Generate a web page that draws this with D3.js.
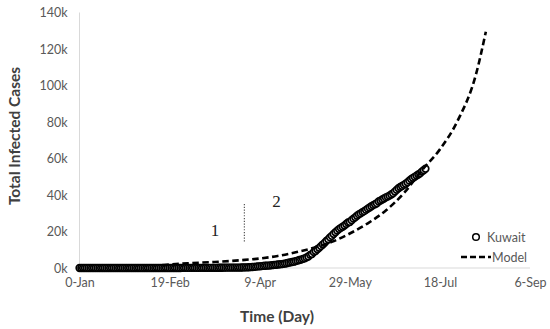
<!DOCTYPE html>
<html>
<head>
<meta charset="utf-8">
<script src="https://cdn.jsdelivr.net/npm/d3@7.9.0/dist/d3.min.js"></script>
<style>
  html, body { margin: 0; padding: 0; background: #fff; }
  svg { display: block; }
</style>
</head>
<body>
<div id="chart"></div>
<script>
// ── Data ──────────────────────────────────────────────────────────────
// x ticks: day number, shown as Excel-style day-month labels
var tickDays   = [0, 50, 100, 150, 200, 250];
var tickLabels = ["0-Jan", "19-Feb", "9-Apr", "29-May", "18-Jul", "6-Sep"];
var yTicks     = [0, 20000, 40000, 60000, 80000, 100000, 120000, 140000];

// Kuwait: cumulative cases, one value per day starting at day 0
var kuwaitCases = [
  0, 0, 0, 0, 0, 0, 0, 0, 0, 0,
  0, 0, 0, 0, 0, 0, 0, 0, 0, 0,
  0, 0, 0, 0, 0, 0, 0, 0, 0, 0,
  0, 0, 0, 0, 0, 0, 0, 0, 0, 0,
  0, 0, 0, 0, 0, 0, 0, 0, 0, 0,
  0, 0, 0, 0, 0, 3, 8, 26, 43, 45,
  45, 46, 56, 56, 56, 58, 58, 61, 64, 65,
  69, 72, 80, 100, 104, 112, 123, 130, 142, 148,
  159, 176, 188, 189, 191, 195, 208, 225, 235, 255,
  266, 289, 317, 342, 417, 479, 556, 665, 743, 855,
  910, 993, 1154, 1234, 1300, 1355, 1405, 1524, 1658, 1751,
  1915, 1995, 2080, 2248, 2399, 2614, 2892, 3075, 3288, 3440,
  3740, 4024, 4377, 4619, 4983, 5278, 5804, 6289, 7208, 7623,
  8688, 9286, 10277, 11028, 11975, 12860, 13802, 14850, 15691, 16764,
  17568, 18609, 19564, 20464, 21302, 21967, 22575, 23267, 24112, 24934,
  25184, 26192, 27043, 27762, 28649, 29359, 29921, 30644, 31131, 31848,
  32510, 33140, 33823, 34432, 34952, 35466, 36431, 36958, 37533, 38074,
  38678, 39145, 39650, 40291, 40940, 41879, 42788, 43703, 44391, 44942,
  45524, 46195, 46940, 47859, 48672, 49303, 49941, 50644, 51245, 51854,
  52840, 53580, 54400
];

// Model curve
var modelDays   = [46, 60, 75, 90, 100, 110, 120, 130, 140, 150, 160, 170, 180, 190, 200, 210, 220, 225.5];
var modelValues = [1600, 2600, 3300, 4300, 5200, 6600, 8600, 11100, 14300, 18900, 24500, 31500, 41000, 53500, 65000, 81000, 106000, 129500];

// phase marker between stage 1 and stage 2
var phaseDay   = 91.5;
var phaseRange = [14500, 36000];

// ── Layout ────────────────────────────────────────────────────────────
var W = 550, H = 329;
var FONT = "Lato, 'Open Sans', 'Liberation Sans', sans-serif";
var TICK = "#595959";
var TITLE = "#404040";

var svg = d3.select("#chart").append("svg")
  .attr("width", W).attr("height", H);

var x = d3.scaleLinear().domain([0, 250]).range([79.5, 530]);
var y = d3.scaleLinear().domain([0, 140000]).range([268, 12.5]);

// axis lines
svg.append("line")
  .attr("x1", x(0)).attr("x2", x(0))
  .attr("y1", y(140000)).attr("y2", y(0))
  .attr("stroke", "#d9d9d9").attr("stroke-width", 1);
svg.append("line")
  .attr("x1", x(0)).attr("x2", x(250))
  .attr("y1", y(0)).attr("y2", y(0))
  .attr("stroke", "#d9d9d9").attr("stroke-width", 1);

// y tick labels
var yAxis = d3.axisLeft(y)
  .tickValues(yTicks)
  .tickSize(0)
  .tickPadding(12)
  .tickFormat(function (d) { return (d / 1000) + "k"; });
var gy = svg.append("g").attr("transform", "translate(" + x(0) + ",0)").call(yAxis);
gy.select(".domain").remove();
gy.selectAll("text").attr("fill", TICK).attr("font-size", "12.5px").attr("font-family", FONT);

// x tick labels
var xAxis = d3.axisBottom(x)
  .tickValues(tickDays)
  .tickSize(0)
  .tickPadding(10)
  .tickFormat(function (d, i) { return tickLabels[i]; });
var gx = svg.append("g").attr("transform", "translate(0," + y(0) + ")").call(xAxis);
gx.select(".domain").remove();
gx.selectAll("text").attr("fill", TICK).attr("font-size", "12.5px").attr("font-family", FONT);

// axis titles
svg.append("text")
  .attr("x", 277).attr("y", 321.5)
  .attr("text-anchor", "middle")
  .attr("font-family", FONT).attr("font-weight", "bold").attr("font-size", "15.5px")
  .attr("fill", TITLE)
  .text("Time (Day)");
svg.append("text")
  .attr("transform", "translate(19.5,136) rotate(-90)")
  .attr("text-anchor", "middle")
  .attr("font-family", FONT).attr("font-weight", "bold").attr("font-size", "15.5px")
  .attr("fill", TITLE)
  .text("Total Infected Cases");

// ── Kuwait markers ────────────────────────────────────────────────────
svg.append("g").selectAll("circle")
  .data(kuwaitCases)
  .join("circle")
  .attr("cx", function (d, i) { return x(i); })
  .attr("cy", function (d) { return y(d); })
  .attr("r", 3.3)
  .attr("fill", "#fff")
  .attr("stroke", "#000")
  .attr("stroke-width", 1.7);

// ── Model dashed line ─────────────────────────────────────────────────
var modelPts = modelDays.map(function (d, i) { return [d, modelValues[i]]; });
svg.append("path")
  .datum(modelPts)
  .attr("fill", "none")
  .attr("stroke", "#000")
  .attr("stroke-width", 2.6)
  .attr("stroke-dasharray", "6.5,3.5")
  .attr("d", d3.line()
    .x(function (d) { return x(d[0]); })
    .y(function (d) { return y(d[1]); })
    .curve(d3.curveMonotoneX));

// ── Phase annotation ──────────────────────────────────────────────────
svg.append("line")
  .attr("x1", x(phaseDay)).attr("x2", x(phaseDay))
  .attr("y1", y(phaseRange[0])).attr("y2", y(phaseRange[1]))
  .attr("stroke", "#555").attr("stroke-width", 1.2)
  .attr("stroke-dasharray", "1.2,1.6");
svg.append("text")
  .attr("x", 215).attr("y", 236)
  .attr("text-anchor", "middle")
  .attr("font-family", "'Liberation Serif', 'DejaVu Serif', serif")
  .attr("font-size", "17px").attr("fill", "#222")
  .text("1");
svg.append("text")
  .attr("x", 276.5).attr("y", 207)
  .attr("text-anchor", "middle")
  .attr("font-family", "'Liberation Serif', 'DejaVu Serif', serif")
  .attr("font-size", "17px").attr("fill", "#222")
  .text("2");

// ── Legend ────────────────────────────────────────────────────────────
var lg = svg.append("g");
lg.append("circle")
  .attr("cx", 476).attr("cy", 237).attr("r", 3.3)
  .attr("fill", "#fff").attr("stroke", "#000").attr("stroke-width", 1.5);
lg.append("text")
  .attr("x", 487).attr("y", 241.5)
  .attr("font-family", FONT).attr("font-size", "12.5px").attr("fill", TICK)
  .text("Kuwait");
lg.append("line")
  .attr("x1", 461).attr("x2", 491)
  .attr("y1", 257).attr("y2", 257)
  .attr("stroke", "#000").attr("stroke-width", 2.6)
  .attr("stroke-dasharray", "6,3");
lg.append("text")
  .attr("x", 492).attr("y", 261.5)
  .attr("font-family", FONT).attr("font-size", "12.5px").attr("fill", TICK)
  .text("Model");
</script>
</body>
</html>
